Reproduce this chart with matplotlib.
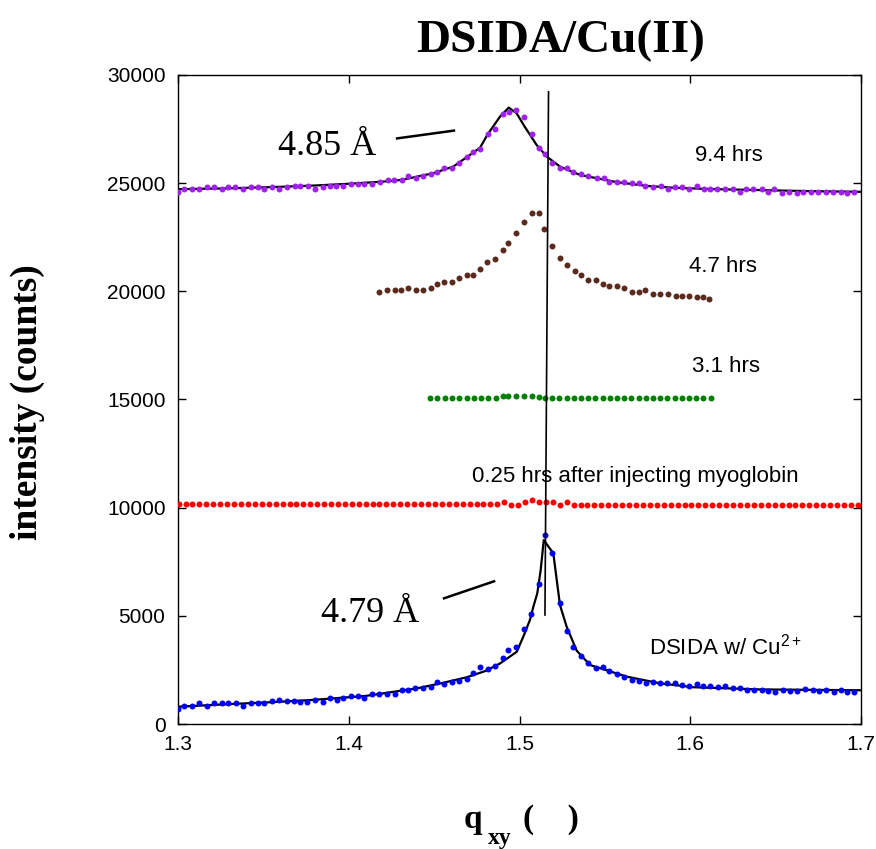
import matplotlib
matplotlib.use("Agg")
import matplotlib.pyplot as plt

plt.rcParams["mathtext.fontset"] = "custom"
plt.rcParams["mathtext.rm"] = "Liberation Serif"
plt.rcParams["mathtext.bf"] = "Liberation Serif:bold"
plt.rcParams["mathtext.sf"] = "Liberation Sans"

# ---- scan data: q_xy and intensity (counts) ----
q_cu = [1.3002, 1.3037, 1.3080, 1.3123, 1.3168, 1.3213, 1.3256, 1.3291, 1.3338, 1.3382,
        1.3428, 1.3470, 1.3505, 1.3549, 1.3592, 1.3637, 1.3678,
        1.3715, 1.3757, 1.3802, 1.3847, 1.3890, 1.3929, 1.3968, 1.4013, 1.4056, 1.4091,
        1.4134, 1.4179, 1.4226, 1.4271, 1.4310, 1.4349, 1.4390, 1.4437, 1.4482, 1.4515,
        1.4558, 1.4605, 1.4647, 1.4691, 1.4726, 1.4770, 1.4814, 1.4857, 1.4902, 1.4934,
        1.4980, 1.5026, 1.5067, 1.5112, 1.5149, 1.5192, 1.5237, 1.5276, 1.5312, 1.5358,
        1.5403, 1.5448,
        1.5487, 1.5526, 1.5573, 1.5612, 1.5657, 1.5702, 1.5741, 1.5780, 1.5823, 1.5862,
        1.5911, 1.5950, 1.5994, 1.6038, 1.6076, 1.6116, 1.6164, 1.6204, 1.6249, 1.6291,
        1.6331, 1.6373, 1.6418, 1.6457, 1.6496, 1.6541, 1.6584, 1.6627, 1.6672, 1.6717,
        1.6756, 1.6795, 1.6842, 1.6883, 1.6920, 1.6959]
i_cu = [680, 846, 846, 957, 846, 957, 957, 957, 957, 846, 957, 957, 957, 1049, 1110, 1049, 1049,
        1040, 1040, 1110, 1040, 1216, 1110, 1216, 1308, 1308, 1216, 1387, 1387, 1387, 1387,
        1572, 1572, 1650, 1650, 1724, 1928, 1835, 1928, 2002, 2094, 2344, 2621, 2543, 2695,
        3065, 3421, 3574, 4378, 5071, 6472, 8737, 7891, 5580, 4299, 3560, 3144, 2820, 2610,
        2649, 2436, 2298, 2187, 2034, 2002, 1882, 1942, 1909, 1882, 1882, 1789, 1757, 1849,
        1757, 1757, 1697, 1757, 1664, 1664, 1572, 1572, 1572, 1539, 1465, 1572, 1539, 1539,
        1632, 1572, 1539, 1572, 1465, 1572, 1465, 1465]

q_fit_cu = [1.300, 1.330, 1.360, 1.380, 1.410, 1.440, 1.455, 1.469, 1.480, 1.4886, 1.4984,
            1.5026, 1.5061, 1.5081, 1.5104, 1.5124, 1.5142, 1.5198, 1.5218, 1.5237, 1.5276,
            1.5335, 1.5413, 1.5432, 1.5628, 1.5823, 1.6018, 1.6408, 1.700]
i_fit_cu = [800, 920, 1030, 1120, 1300, 1650, 1900, 2160, 2450, 2800, 3340,
            4110, 4810, 5420, 6040, 7120, 8500, 7890, 6660, 5500, 4500,
            3390, 2730, 2680, 2190, 1880, 1700, 1600, 1560]

q_r = [1.3003, 1.3044, 1.3084, 1.3125, 1.3165, 1.3206, 1.3247, 1.3287, 1.3328, 1.3368,
       1.3409, 1.3450, 1.3490, 1.3531, 1.3571, 1.3612, 1.3653, 1.3693, 1.3734, 1.3774,
       1.3815, 1.3856, 1.3896, 1.3937, 1.3977, 1.4018, 1.4059, 1.4099, 1.4140, 1.4180,
       1.4221, 1.4262, 1.4302, 1.4343, 1.4383, 1.4424, 1.4465, 1.4505, 1.4546, 1.4586,
       1.4627, 1.4668, 1.4708, 1.4749, 1.4789, 1.4830, 1.4871, 1.4911, 1.4952, 1.4992,
       1.5033, 1.5074, 1.5114, 1.5155, 1.5195, 1.5236, 1.5277, 1.5317, 1.5358, 1.5398,
       1.5439, 1.5480, 1.5520, 1.5561, 1.5601, 1.5642, 1.5683, 1.5723, 1.5764, 1.5804,
       1.5845, 1.5886, 1.5926, 1.5967, 1.6007, 1.6048, 1.6089, 1.6129, 1.6170, 1.6210,
       1.6251, 1.6292, 1.6332, 1.6373, 1.6413, 1.6454, 1.6495, 1.6535, 1.6576, 1.6616,
       1.6657, 1.6698, 1.6738, 1.6779, 1.6819, 1.6860, 1.6901, 1.6941, 1.6982]
i_r = [10150, 10150, 10150, 10150, 10150, 10150, 10150, 10150, 10150, 10150,
       10150, 10150, 10150, 10150, 10150, 10150, 10150, 10150, 10150, 10150,
       10150, 10150, 10150, 10150, 10150, 10150, 10150, 10150, 10150, 10150,
       10150, 10150, 10150, 10150, 10150, 10150, 10150, 10150, 10150, 10150,
       10150, 10150, 10150, 10150, 10150, 10150, 10150, 10240, 10130, 10130,
       10240, 10360, 10250, 10250, 10250, 10130, 10240, 10130, 10130, 10130,
       10130, 10130, 10130, 10130, 10130, 10130, 10130, 10130, 10130, 10130,
       10130, 10130, 10130, 10130, 10130, 10130, 10130, 10130, 10130, 10130,
       10130, 10130, 10130, 10130, 10130, 10130, 10130, 10130, 10130, 10130,
       10130, 10130, 10130, 10130, 10130, 10130, 10130, 10130, 10130]

q_g = [1.4476, 1.4519, 1.4562, 1.4605, 1.4647, 1.4691, 1.4733, 1.4775, 1.4817, 1.4861,
       1.4902, 1.4934, 1.4980, 1.5026, 1.5071, 1.5116, 1.5149, 1.5191, 1.5234, 1.5276,
       1.5318, 1.5360, 1.5402, 1.5444, 1.5487, 1.5529, 1.5571, 1.5613, 1.5655, 1.5698,
       1.5740, 1.5782, 1.5824, 1.5866, 1.5908, 1.5951, 1.5993, 1.6035, 1.6077, 1.6119]
i_g = [15060, 15060, 15060, 15060, 15060, 15060, 15060, 15060, 15060, 15060,
       15180, 15180, 15180, 15180, 15180, 15130, 15060, 15060, 15060, 15060,
       15060, 15060, 15060, 15060, 15060, 15060, 15060, 15060, 15060, 15060,
       15060, 15060, 15060, 15060, 15060, 15060, 15060, 15060, 15060, 15060]

q_b = [1.4179, 1.4226, 1.4271, 1.4304, 1.4349, 1.4392, 1.4433, 1.4480, 1.4515, 1.4558,
       1.4603, 1.4647, 1.4691, 1.4726, 1.4769, 1.4811, 1.4857, 1.4902, 1.4934, 1.4980,
       1.5026, 1.5071, 1.5114, 1.5145, 1.5192, 1.5235, 1.5280, 1.5325, 1.5358, 1.5403,
       1.5448, 1.5491, 1.5526, 1.5569, 1.5614, 1.5659, 1.5702, 1.5735, 1.5780, 1.5823,
       1.5868, 1.5917, 1.5950, 1.5993, 1.6038, 1.6076, 1.6112]
i_b = [19985, 20064, 20064, 20064, 20142, 20064, 20064, 20142, 20327, 20420,
       20420, 20605, 20757, 20757, 21020, 21372, 21483, 21913, 22251, 22713,
       23222, 23637, 23637, 22870, 22098, 21543, 21206, 20942, 20757, 20526,
       20526, 20341, 20249, 20249, 20156, 19985, 19985, 20064, 19893, 19893,
       19893, 19786, 19786, 19786, 19726, 19726, 19634]

q_p = [1.3002, 1.3037, 1.3080, 1.3123, 1.3170, 1.3213, 1.3259, 1.3291, 1.3334, 1.3382,
       1.3428, 1.3467, 1.3502, 1.3549, 1.3592, 1.3637, 1.3685, 1.3716, 1.3760, 1.3802,
       1.3847, 1.3888, 1.3927, 1.3968, 1.4013, 1.4052, 1.4091, 1.4134, 1.4181, 1.4228,
       1.4267, 1.4310,
       1.4349, 1.4392, 1.4437, 1.4482, 1.4515, 1.4560, 1.4605, 1.4647, 1.4694, 1.4729,
       1.4769, 1.4814, 1.4857, 1.4902, 1.4937, 1.4979, 1.5026, 1.5071, 1.5116, 1.5149,
       1.5192, 1.5237, 1.5280, 1.5315, 1.5358, 1.5403, 1.5452, 1.5495, 1.5526, 1.5569,
       1.5612, 1.5657, 1.5702, 1.5737, 1.5780, 1.5827, 1.5871, 1.5911, 1.5950, 1.5993,
       1.6038, 1.6080, 1.6116, 1.6158, 1.6205, 1.6249, 1.6291, 1.6326, 1.6369, 1.6418,
       1.6457, 1.6490, 1.6536, 1.6580, 1.6623, 1.6662, 1.6705, 1.6750, 1.6795, 1.6838,
       1.6881, 1.6916, 1.6961]
i_p = [24610, 24718, 24718, 24718, 24810, 24810, 24718, 24810, 24810, 24718,
       24810, 24810, 24718, 24810, 24718, 24810, 24872, 24887, 24887, 24718,
       24810, 24887, 24887, 24887, 24964, 24964, 24964, 24964, 25057, 25149,
       25149, 25149,
       25334, 25242, 25334, 25427, 25505, 25690, 25690, 25935, 26199, 26458,
       26569, 27262, 27521, 28200, 28307, 28400, 28048, 27262, 26643, 26337,
       25949, 25690, 25690, 25519, 25427, 25334, 25257, 25257, 25071, 25071,
       25072, 24995, 24995, 24887, 24810, 24887, 24718, 24810, 24810, 24718,
       24887, 24718, 24718, 24718, 24718, 24718, 24610, 24718, 24718, 24718,
       24610, 24718, 24533, 24610, 24533, 24610, 24610, 24610, 24610, 24610,
       24610, 24533, 24610]

q_fit_p = [1.300, 1.330, 1.360, 1.380, 1.400, 1.420, 1.431, 1.440, 1.4495, 1.4612, 1.471,
           1.4769, 1.4814, 1.4886, 1.4937, 1.4983, 1.503, 1.510, 1.516, 1.5237, 1.5354,
           1.557, 1.575, 1.590, 1.610, 1.640, 1.670, 1.700]
i_fit_p = [24720, 24760, 24830, 24890, 24970, 25070, 25150, 25300, 25460, 25765, 26305,
           26640, 27262, 28076, 28490, 28230, 27615, 26767, 26227, 25765, 25380,
           25045, 24870, 24790, 24730, 24680, 24630, 24600]

# guide line through the lower peak
q_guide = [1.5170, 1.5149]
i_guide = [29220, 5040]

fig = plt.figure(figsize=(8.76, 8.49), dpi=100)
ax = fig.add_axes([0.2032, 0.1472, 0.7797, 0.7645])

ms = 4.3
ax.plot(q_cu, i_cu, "o", color="#0000ff", ms=ms, mec="none", zorder=3)
ax.plot(q_fit_cu, i_fit_cu, "-", color="black", lw=1.6, zorder=2)
ax.plot(q_r, i_r, "o", color="#ff0000", ms=ms, mec="none", zorder=3)
ax.plot(q_g, i_g, "o", color="#008000", ms=ms, mec="none", zorder=3)
ax.plot(q_b, i_b, "o", color="#5a2a1e", ms=ms, mec="none", zorder=3)
ax.plot(q_p, i_p, "o", color="#a020f0", ms=ms, mec="none", zorder=3)
ax.plot(q_fit_p, i_fit_p, "-", color="black", lw=1.6, zorder=2)
ax.plot(q_guide, i_guide, "-", color="black", lw=1.2, zorder=4)

# d-spacing labels with leader lines
ax.plot([1.4283, 1.4616], [27068, 27428], "-", color="black", lw=1.8)
ax.plot([1.4558, 1.4851], [5811, 6597], "-", color="black", lw=1.8)
ax.text(1.3586, 26305, "4.85 Å", family="Liberation Serif", fontsize=26,
        ha="left", va="baseline")
ax.text(1.3836, 4729, "4.79 Å", family="Liberation Serif", fontsize=26,
        ha="left", va="baseline")

sans = "Liberation Sans"
ax.text(1.6028, 26027, "9.4 hrs", family=sans, fontsize=16, ha="left", va="baseline")
ax.text(1.5993, 20910, "4.7 hrs", family=sans, fontsize=16, ha="left", va="baseline")
ax.text(1.6008, 16270, "3.1 hrs", family=sans, fontsize=16, ha="left", va="baseline")
ax.text(1.4720, 11174, "0.25 hrs after injecting myoglobin", family=sans, fontsize=16,
        ha="left", va="baseline")
ax.text(1.5760, 3236, r"DSIDA w/ Cu$^{\mathsf{2+}}$", family=sans, fontsize=16,
        ha="left", va="baseline")

ax.set_xlim(1.3, 1.7)
ax.set_ylim(0, 30000)
ax.set_xticks([1.3, 1.4, 1.5, 1.6, 1.7])
ax.set_yticks([0, 5000, 10000, 15000, 20000, 25000, 30000])
ax.tick_params(direction="in", top=True, right=True, length=6, width=1.0,
               labelsize=15)
ax.tick_params(axis="y", pad=9)
ax.tick_params(axis="x", pad=8)
for lab in ax.get_xticklabels() + ax.get_yticklabels():
    lab.set_family(sans)
for sp in ax.spines.values():
    sp.set_linewidth(1.0)

serif = "Liberation Serif"
W, H = 876, 849
fig.text(561 / W, 1 - 52 / H, "DSIDA/Cu(II)", family=serif,
         weight="bold", fontsize=34, ha="center", va="baseline")
# x-axis label: q with a lowered "xy" subscript, then the unit parentheses
fig.text(464 / W, 1 - 828 / H, "q", family=serif, weight="bold", fontsize=24,
         ha="left", va="baseline")
fig.text(488 / W, 1 - 844 / H, "xy", family=serif, weight="bold", fontsize=17,
         ha="left", va="baseline")
fig.text(523 / W, 1 - 828 / H, "(    )", family=serif, weight="bold", fontsize=24,
         ha="left", va="baseline")
fig.text(27 / W, 1 - 402 / H, "intensity (counts)", family=serif,
         weight="bold", fontsize=27, rotation=90, ha="center", va="center")

fig.savefig("out.png", dpi=100)
